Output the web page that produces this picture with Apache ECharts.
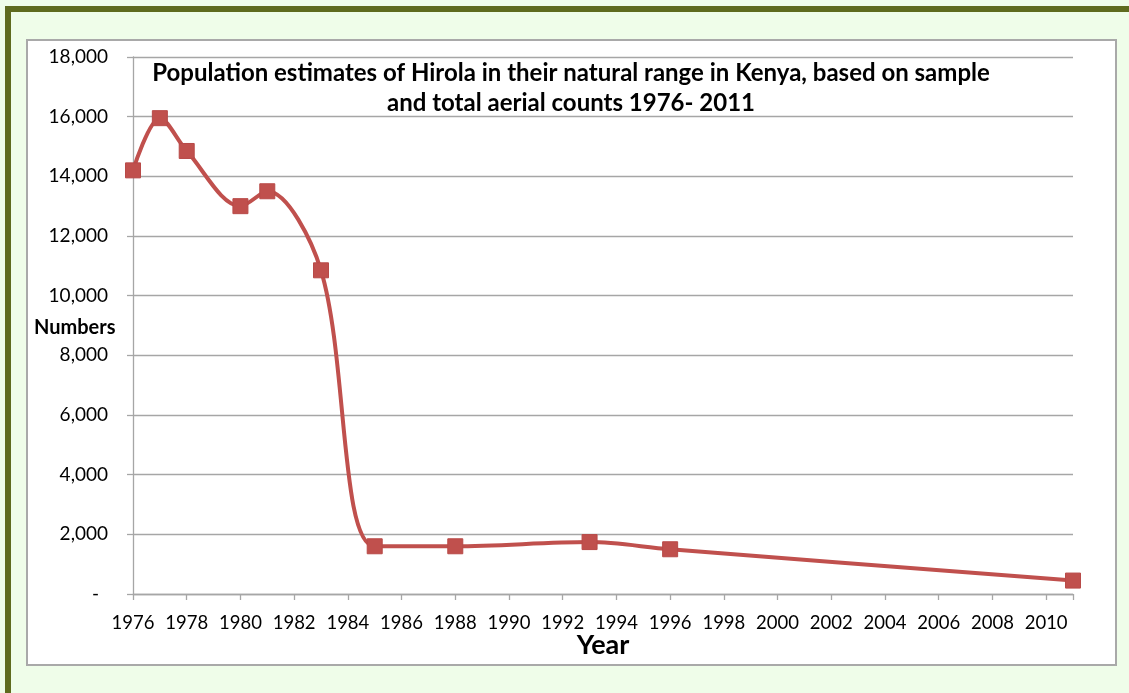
<!DOCTYPE html>
<html>
<head>
<meta charset="utf-8">
<script src="https://cdn.jsdelivr.net/npm/echarts@6/dist/echarts.min.js"></script>
<style>
  html, body { margin: 0; padding: 0; width: 1129px; height: 693px; overflow: hidden; background: #EFFDE9; }
  #frame { position: absolute; left: 5px; top: 6px; width: 1200px; height: 800px; border-left: 6px solid #5E6B1E; border-top: 6px solid #5E6B1E; box-sizing: border-box; }
  #box { position: absolute; left: 26px; top: 39px; width: 1091px; height: 627px; background: #FFFFFF; border: 2px solid #A9A9A9; box-sizing: border-box; }
  #chart { position: absolute; left: 0; top: 0; width: 1129px; height: 693px; }
</style>
</head>
<body>
<div id="frame"></div>
<div id="box"></div>
<div id="chart"></div>
<script>
// Data
const years = [1976, 1977, 1978, 1980, 1981, 1983, 1985, 1988, 1993, 1996, 2011];
const numbers = [14200, 15950, 14850, 13000, 13500, 10850, 1600, 1600, 1740, 1500, 450];
const titleLines = ['Population estimates of Hirola in their natural range in Kenya, based on sample', 'and total aerial counts 1976- 2011'];
const xAxisName = 'Year';
const yAxisName = 'Numbers';

const chart = echarts.init(document.getElementById('chart'), null, { renderer: 'canvas' });
const font = 'Lato, "Open Sans", sans-serif';

chart.setOption({
  backgroundColor: 'transparent',
  animation: false,
  textStyle: { fontFamily: font },
  title: {
    text: titleLines.join('\n'),
    left: 566,
    top: 53,
    textAlign: 'center',
    textStyle: { fontFamily: font, fontWeight: 'bold', fontSize: 24, color: '#000', lineHeight: 30 }
  },
  grid: { left: 133, right: 56, top: 57, bottom: 99, containLabel: false },
  xAxis: {
    type: 'value',
    min: 1976,
    max: 2011,
    interval: 2,
    name: xAxisName,
    nameLocation: 'middle',
    nameGap: 38,
    nameMoveOverlap: false,
    nameTextStyle: { fontFamily: font, fontWeight: 'bold', fontSize: 27, color: '#000' },
    axisLine: { show: true, lineStyle: { color: '#A6A6A6', width: 1.3 } },
    axisTick: { show: true, length: 6, lineStyle: { color: '#A6A6A6', width: 1.3 } },
    axisLabel: {
      fontSize: 18.5, color: '#000', margin: 20,
      formatter: v => (v === 2011 ? '' : String(v))
    },
    splitLine: { show: false }
  },
  yAxis: {
    type: 'value',
    min: 0,
    max: 18000,
    interval: 2000,
    axisLine: { show: true, lineStyle: { color: '#A6A6A6', width: 1.3 } },
    axisTick: { show: true, length: 6, lineStyle: { color: '#A6A6A6', width: 1.3 } },
    axisLabel: {
      fontSize: 19, color: '#000', margin: 25,
      formatter: v => (v === 0 ? '{d|-}' : v.toLocaleString('en-US')),
      rich: { d: { fontSize: 19, color: '#000', padding: [0, 9, 0, 0] } }
    },
    splitLine: { show: true, lineStyle: { color: '#A6A6A6', width: 1.3 } }
  },
  graphic: [{
    type: 'text',
    left: 34,
    top: 318,
    style: { text: yAxisName, font: 'bold 20px ' + font, fill: '#000' }
  }],
  series: [{
    type: 'line',
    data: years.map((y, i) => [y, numbers[i]]),
    smooth: 0.33,
    symbol: 'rect',
    symbolSize: 15,
    lineStyle: { color: '#C0504D', width: 4 },
    itemStyle: { color: '#C0504D', borderColor: '#B84A48', borderWidth: 1 },
    z: 3
  }]
});
</script>
</body>
</html>
